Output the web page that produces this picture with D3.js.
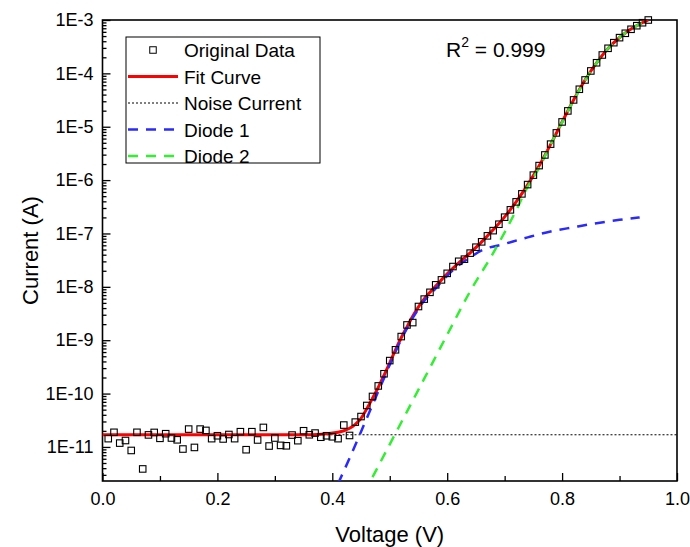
<!DOCTYPE html>
<html>
<head>
<meta charset="utf-8">
<script src="https://cdn.jsdelivr.net/npm/d3@7"></script>
<style>
  html, body { margin: 0; padding: 0; background: #fff; }
  svg { display: block; font-family: Arial, "Liberation Sans", sans-serif; }
</style>
</head>
<body>
<div id="chart"></div>
<script>
// I-V curve with a two-diode fit (log current)
var dataV = [0.01, 0.02, 0.03, 0.04, 0.05, 0.06, 0.07, 0.08, 0.09, 0.10,
    0.11, 0.12, 0.13, 0.14, 0.15, 0.16, 0.17, 0.18, 0.19, 0.20,
    0.21, 0.22, 0.23, 0.24, 0.25, 0.26, 0.27, 0.28, 0.29, 0.30,
    0.31, 0.32, 0.33, 0.34, 0.35, 0.36, 0.37, 0.38, 0.39, 0.40,
    0.41, 0.42, 0.43, 0.44, 0.45, 0.46, 0.47, 0.48, 0.49, 0.50,
    0.51, 0.52, 0.53, 0.54, 0.55, 0.56, 0.57, 0.58, 0.59, 0.60,
    0.61, 0.62, 0.63, 0.64, 0.65, 0.66, 0.67, 0.68, 0.69, 0.70,
    0.71, 0.72, 0.73, 0.74, 0.75, 0.76, 0.77, 0.78, 0.79, 0.80,
    0.81, 0.82, 0.83, 0.84, 0.85, 0.86, 0.87, 0.88, 0.89, 0.90,
    0.91, 0.92, 0.93, 0.94, 0.95];
var dataI = [1.43e-11, 1.88e-11, 1.18e-11, 1.32e-11, 8.59e-12, 1.88e-11, 3.87e-12, 1.68e-11, 1.87e-11, 1.45e-11,
    1.77e-11, 1.47e-11, 1.36e-11, 9.14e-12, 2.16e-11, 9.79e-12, 2.16e-11, 2.04e-11, 1.43e-11, 1.62e-11,
    1.41e-11, 1.71e-11, 1.43e-11, 1.93e-11, 8.87e-12, 1.93e-11, 1.35e-11, 2.32e-11, 1.04e-11, 1.47e-11,
    1.07e-11, 1.05e-11, 1.67e-11, 1.31e-11, 2.01e-11, 1.69e-11, 1.82e-11, 1.52e-11, 1.62e-11, 1.55e-11,
    1.43e-11, 2.57e-11, 1.64e-11, 2.92e-11, 3.71e-11, 5.98e-11, 8.83e-11, 1.39e-10, 2.35e-10, 4.15e-10,
    6.61e-10, 1.17e-9, 1.93e-9, 2.14e-9, 4.28e-9, 5.89e-9, 7.89e-9, 1.09e-8, 1.35e-8, 1.79e-8,
    2.40e-8, 3.01e-8, 3.30e-8, 4.28e-8, 5.53e-8, 6.97e-8, 9.02e-8, 1.13e-7, 1.49e-7, 2.02e-7,
    2.77e-7, 3.91e-7, 5.52e-7, 8.24e-7, 1.24e-6, 1.87e-6, 2.96e-6, 4.72e-6, 7.66e-6, 1.23e-5,
    1.98e-5, 3.18e-5, 5.04e-5, 7.52e-5, 1.11e-4, 1.58e-4, 2.21e-4, 2.95e-4, 3.76e-4, 4.67e-4,
    5.64e-4, 6.70e-4, 7.82e-4, 8.89e-4, 1.00e-3];

var fitV = [0.00, 0.36, 0.39, 0.41, 0.42, 0.43, 0.44, 0.45, 0.46, 0.47, 0.48, 0.49, 0.50,
    0.51, 0.52, 0.53, 0.54, 0.55, 0.56, 0.57, 0.58, 0.59, 0.60, 0.62, 0.64, 0.66, 0.68,
    0.70, 0.72, 0.74, 0.76, 0.78, 0.80, 0.82, 0.84, 0.86, 0.88, 0.90, 0.92, 0.95];
var fitI = [1.69e-11, 1.69e-11, 1.77e-11, 1.88e-11, 2.01e-11, 2.24e-11, 2.66e-11, 3.44e-11, 5.19e-11,
    8.17e-11, 1.31e-10, 2.20e-10, 3.78e-10, 6.61e-10, 1.11e-9, 1.78e-9, 2.81e-9, 4.22e-9, 5.96e-9,
    7.89e-9, 1.04e-8, 1.35e-8, 1.75e-8, 2.81e-8, 4.34e-8, 6.97e-8, 1.17e-7, 2.05e-7, 3.91e-7,
    8.13e-7, 1.85e-6, 4.67e-6, 1.23e-5, 3.18e-5, 7.52e-5, 1.57e-4, 2.92e-4, 4.70e-4, 6.78e-4, 1.00e-3];

var noiseI = 1.69e-11;

var diode1V = [0.41, 0.43, 0.45, 0.46, 0.47, 0.48, 0.49, 0.50, 0.51, 0.52, 0.53, 0.54, 0.55,
    0.56, 0.57, 0.58, 0.59, 0.60, 0.62, 0.64, 0.66, 0.70, 0.74, 0.78, 0.82, 0.86, 0.90, 0.935];
var diode1I = [2.05e-12, 6.14e-12, 1.93e-11, 3.44e-11, 6.17e-11, 1.10e-10, 1.94e-10, 3.46e-10,
    6.07e-10, 1.04e-9, 1.67e-9, 2.62e-9, 3.87e-9, 5.47e-9, 7.24e-9, 9.38e-9, 1.24e-8, 1.61e-8,
    2.53e-8, 3.56e-8, 4.83e-8, 6.38e-8, 8.45e-8, 1.09e-7, 1.31e-7, 1.56e-7, 1.80e-7, 2.00e-7];

var diode2V = [0.47, 0.50, 0.53, 0.56, 0.60, 0.64, 0.68, 0.72, 0.74, 0.76, 0.78, 0.80,
    0.82, 0.84, 0.86, 0.88, 0.90, 0.92, 0.95];
var diode2I = [2.71e-12, 1.12e-11, 4.60e-11, 1.90e-10, 1.27e-9, 8.24e-9, 4.28e-8, 2.71e-7, 7.46e-7,
    1.69e-6, 4.67e-6, 1.21e-5, 3.11e-5, 7.36e-5, 1.57e-4, 2.92e-4, 4.70e-4, 6.78e-4, 1.00e-3];

var xMajor = [0, 0.2, 0.4, 0.6, 0.8, 1.0];
var xMinor = [0.1, 0.3, 0.5, 0.7, 0.9];
var yMajorExp = [-3, -4, -5, -6, -7, -8, -9, -10, -11];

var legendItems = [
    { label: 'Original Data', kind: 'square' },
    { label: 'Fit Curve', kind: 'line', color: '#ff0000', dash: null, width: 3 },
    { label: 'Noise Current', kind: 'line', color: '#000', dash: '2,2', width: 1 },
    { label: 'Diode 1', kind: 'line', color: '#2a2aff', dash: '10,8', width: 2.5 },
    { label: 'Diode 2', kind: 'line', color: '#33ee33', dash: '10,8', width: 2.5 }
];

(function() {
    'use strict';

    var width = 690, height = 547;
    var left = 102.5, right = 677, top = 20, bottom = 481;

    var svg = d3.select('#chart').append('svg')
        .attr('width', width)
        .attr('height', height);

    var x = d3.scaleLinear().domain([0, 1]).range([left, right]);
    var y = d3.scaleLog().domain([2.3e-12, 1e-3]).range([bottom, top]);

    svg.append('defs').append('clipPath').attr('id', 'plot-clip')
        .append('rect')
        .attr('x', left).attr('y', top)
        .attr('width', right - left).attr('height', bottom - top);

    // Axes (ticks pointing inward)
    var yMajor = yMajorExp.map(function(e) { return Math.pow(10, e); });
    var yMinor = [];
    for (var e = -12; e <= -4; e++) {
        for (var m = 2; m <= 9; m++) {
            var v = m * Math.pow(10, e);
            if (v >= 2.3e-12 && v <= 1e-3) yMinor.push(v);
        }
    }

    svg.append('g')
        .attr('transform', 'translate(0,' + bottom + ')')
        .call(d3.axisBottom(x).tickValues(xMinor).tickSize(-5).tickFormat(''))
        .call(function(g) { g.select('.domain').remove(); });
    svg.append('g')
        .attr('transform', 'translate(0,' + bottom + ')')
        .call(d3.axisBottom(x).tickValues(xMajor).tickSize(-8).tickPadding(11)
            .tickFormat(d3.format('.1f')))
        .call(function(g) { g.select('.domain').remove(); });

    svg.append('g')
        .attr('transform', 'translate(' + left + ',0)')
        .call(d3.axisLeft(y).tickValues(yMinor).tickSize(-4).tickFormat(''))
        .call(function(g) { g.select('.domain').remove(); });
    svg.append('g')
        .attr('transform', 'translate(' + left + ',0)')
        .call(d3.axisLeft(y).tickValues(yMajor).tickSize(-8).tickPadding(9)
            .tickFormat(function(d) { return '1E' + Math.round(Math.log10(d)); }))
        .call(function(g) { g.select('.domain').remove(); });

    svg.selectAll('.tick line').attr('stroke', '#000').attr('stroke-width', 1.3);
    svg.selectAll('.tick text')
        .attr('fill', '#000')
        .style('font-size', '18px')
        .style('font-family', 'Arial, "Liberation Sans", sans-serif');

    svg.append('rect')
        .attr('x', left).attr('y', top)
        .attr('width', right - left).attr('height', bottom - top)
        .attr('fill', 'none')
        .attr('stroke', '#000')
        .attr('stroke-width', 1.6);

    // Curves
    var line = d3.line()
        .x(function(d) { return x(d[0]); })
        .y(function(d) { return y(d[1]); })
        .curve(d3.curveMonotoneX);

    var plot = svg.append('g').attr('clip-path', 'url(#plot-clip)');

    function pairs(vs, is) { return vs.map(function(v, i) { return [v, is[i]]; }); }

    plot.append('line')
        .attr('x1', x(0)).attr('x2', x(1))
        .attr('y1', y(noiseI)).attr('y2', y(noiseI))
        .attr('stroke', '#000')
        .attr('stroke-width', 1)
        .attr('stroke-dasharray', '2,2');

    plot.append('path')
        .datum(pairs(fitV, fitI))
        .attr('d', line)
        .attr('fill', 'none')
        .attr('stroke', legendItems[1].color)
        .attr('stroke-width', legendItems[1].width);

    plot.append('path')
        .datum(pairs(diode1V, diode1I))
        .attr('d', line)
        .attr('fill', 'none')
        .attr('stroke', legendItems[3].color)
        .attr('stroke-width', legendItems[3].width)
        .attr('stroke-dasharray', legendItems[3].dash);

    plot.append('path')
        .datum(pairs(diode2V, diode2I))
        .attr('d', line)
        .attr('fill', 'none')
        .attr('stroke', legendItems[4].color)
        .attr('stroke-width', legendItems[4].width)
        .attr('stroke-dasharray', legendItems[4].dash);

    // Data squares
    var sq = 6.5;
    svg.append('g')
        .selectAll('rect')
        .data(pairs(dataV, dataI))
        .join('rect')
        .attr('x', function(d) { return x(d[0]) - sq / 2; })
        .attr('y', function(d) { return y(d[1]) - sq / 2; })
        .attr('width', sq)
        .attr('height', sq)
        .attr('fill', 'none')
        .attr('stroke', '#000')
        .attr('stroke-width', 1.1);

    // Axis titles
    svg.append('text')
        .attr('x', (left + right) / 2)
        .attr('y', 542)
        .attr('text-anchor', 'middle')
        .style('font-size', '22px')
        .text('Voltage (V)');

    svg.append('text')
        .attr('transform', 'translate(38,' + ((top + bottom) / 2) + ') rotate(-90)')
        .attr('text-anchor', 'middle')
        .style('font-size', '22px')
        .text('Current (A)');

    // R squared
    var r2 = svg.append('text')
        .attr('x', 446)
        .attr('y', 57)
        .style('font-size', '21px');
    r2.append('tspan').text('R');
    r2.append('tspan').attr('dy', -10).style('font-size', '14px').text('2');
    r2.append('tspan').attr('dy', 10).text(' = 0.999');

    // Legend
    var lg = svg.append('g');
    lg.append('rect')
        .attr('x', 126).attr('y', 37)
        .attr('width', 194).attr('height', 126)
        .attr('fill', '#fff')
        .attr('stroke', '#000')
        .attr('stroke-width', 1);

    legendItems.forEach(function(item, i) {
        var cy = 50 + i * 26.5;
        if (item.kind === 'square') {
            lg.append('rect')
                .attr('x', 153 - sq / 2).attr('y', cy - sq / 2)
                .attr('width', sq).attr('height', sq)
                .attr('fill', 'none')
                .attr('stroke', '#000');
        } else {
            lg.append('line')
                .attr('x1', 128).attr('x2', 178)
                .attr('y1', cy).attr('y2', cy)
                .attr('stroke', item.color)
                .attr('stroke-width', item.width)
                .attr('stroke-dasharray', item.dash);
        }
        lg.append('text')
            .attr('x', 184)
            .attr('y', cy + 7)
            .style('font-size', '19px')
            .text(item.label);
    });
})();
</script>
</body>
</html>
